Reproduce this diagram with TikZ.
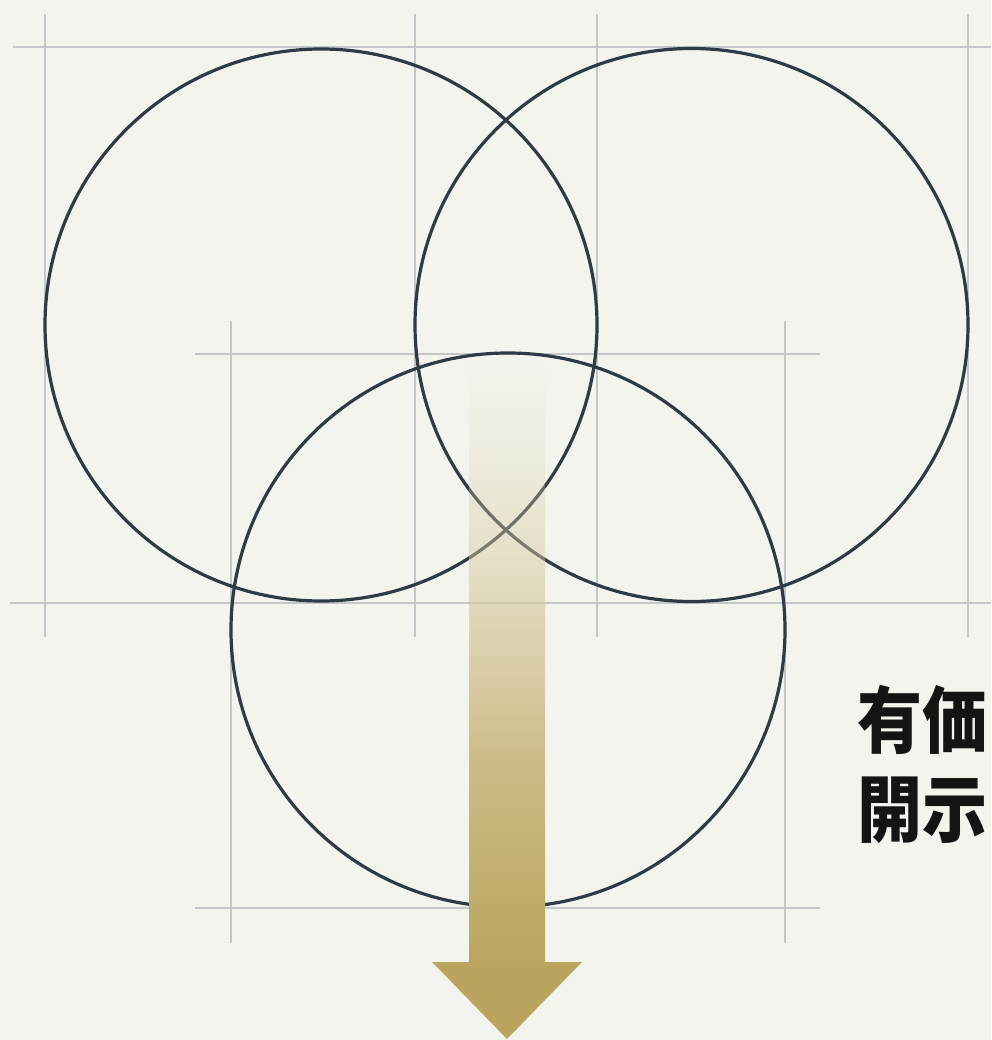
\documentclass[tikz,border=0pt]{standalone}
\usepackage{fontspec}
\newfontfamily\cjk{Noto Sans CJK JP}
\usetikzlibrary{fadings}
\definecolor{bg}{HTML}{F3F4EE}
\definecolor{gridc}{HTML}{C4C7C9}
\definecolor{ringc}{HTML}{2E3A44}
\definecolor{gold}{HTML}{BBA55E}
\tikzfading[name=shaftfade, top color=transparent!100, middle color=transparent!40, bottom color=transparent!0]
\begin{document}
\begin{tikzpicture}[x=1pt,y=-1pt,
  gridline/.style={draw=gridc, line width=1.8pt},
  ring/.style={circle, draw=ringc, line width=3.2pt, inner sep=0pt, outer sep=0pt},
  jlabel/.style={font=\cjk\bfseries\fontsize{65}{80}\selectfont, text=black!92, inner sep=0pt, anchor=base west}]
\fill[bg] (0,0) rectangle (991,1040);
\useasboundingbox (0,0) rectangle (991,1040);
% grid group A
\draw[gridline] (13,47) -- (991,47);
\draw[gridline] (10,603) -- (991,603);
\foreach \gx in {45,415,597,968} \draw[gridline] (\gx,14) -- (\gx,637);
% grid group B
\draw[gridline] (195,354) -- (820,354);
\draw[gridline] (195,908) -- (820,908);
\foreach \gx in {231,785} \draw[gridline] (\gx,321) -- (\gx,943);
% circles
\node[ring, minimum size=552pt] (c1) at (321,325) {};
\node[ring, minimum size=553pt] (c2) at (691.5,325) {};
\node[ring, minimum size=554pt] (c3) at (508,630) {};
% arrow
\shade[top color=gold!45!white, bottom color=gold!75!white, path fading=shaftfade] (469,366) rectangle (545,761);
\shade[top color=gold!75!white, bottom color=gold] (469,760) rectangle (545,963);
\fill[gold] (432,962) -- (582,962) -- (507,1039) -- cycle;
% text
\node[jlabel] (t1) at (857,747) {\scalebox{1}[1.12]{有価}};
\node[jlabel] (t2) at (857,836) {\scalebox{1}[1.12]{開示}};
\end{tikzpicture}
\end{document}
